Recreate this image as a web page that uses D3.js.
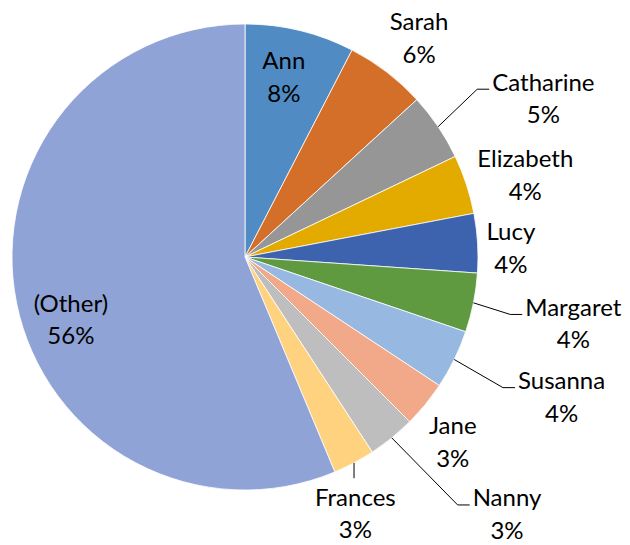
<!DOCTYPE html>
<html>
<head>
<meta charset="utf-8">
<script src="https://cdn.jsdelivr.net/npm/d3@7"></script>
<style>
  body { margin: 0; background: #fff; }
  svg { display: block; }
  text { font-family: Lato, "Open Sans", sans-serif; font-size: 24px; fill: #000; }
</style>
</head>
<body>
<svg id="chart" width="630" height="545"></svg>
<script>
// names and shares (percent)
const names = ["Ann", "Sarah", "Catharine", "Elizabeth", "Lucy", "Margaret", "Susanna", "Jane", "Nanny", "Frances", "(Other)"]
const shares = [7.6, 5.6, 4.7, 4.1, 4.1, 4.1, 4.1, 3.2, 3.3, 2.9, 56.3]
const colors = ["#508bc3", "#d46f2a", "#969696", "#e3aa00", "#3d62ae", "#5f9a40", "#97b8e0", "#f1a98a", "#bebebe", "#ffd27f", "#8fa3d6"]

// label placement: radius from centre, angle nudge (deg), leader line?
const labelR = [184, 280, 338, 292, 266, 335, 346, 278, 367, 279, 185]
const labelNudge = [-1.5, 1, 6, 1.9, 1.5, 0.1, -2.3, 2.4, -6.5, 4.6, -8.4]
const leader = [false, false, true, false, false, true, true, false, true, true, false]

let svg = d3.select("#chart")
let cx = 245, cy = 257, radius = 233

let data = names.map((n, i) => ({ name: n, value: shares[i], i: i }))

let pie = d3.pie().sort(null).value(d => d.value)
let arc = d3.arc().innerRadius(0).outerRadius(radius)
let arcs = pie(data)

let body = svg.append("g").attr("transform", `translate(${cx},${cy})`)

body.selectAll("path")
  .data(arcs)
  .enter()
  .append("path")
  .attr("d", arc)
  .attr("fill", d => colors[d.data.i])
  .attr("stroke", "#fff")
  .attr("stroke-width", 0.8)

function polar(angle, r) {
  return [Math.sin(angle) * r, -Math.cos(angle) * r]
}

let labels = body.selectAll("g.lbl")
  .data(arcs)
  .enter()
  .append("g")
  .attr("class", "lbl")
  .each(function (d) {
    let mid = (d.startAngle + d.endAngle) / 2
    let a = mid + labelNudge[d.data.i] * Math.PI / 180
    let p = polar(a, labelR[d.data.i])
    d.lx = p[0]
    d.ly = p[1]
    let t = d3.select(this).append("text")
      .attr("text-anchor", "middle")
      .attr("x", p[0])
      .attr("y", p[1])
    t.append("tspan").attr("x", p[0]).attr("dy", "-0.32em").text(d.data.name)
    t.append("tspan").attr("x", p[0]).attr("dy", "1.36em").text(Math.round(d.data.value) + "%")
  })

// leader lines
labels.each(function (d) {
  if (!leader[d.data.i]) return
  let box = this.getBBox()
  let mid = (d.startAngle + d.endAngle) / 2
  let s = polar(mid, radius)
  let pts
  if (s[0] > box.x && s[0] < box.x + box.width) {
    // label sits right under the slice
    pts = [s, [s[0], d.ly - 35]]
  } else {
    let ey = d.ly - 9
    pts = [s, [box.x - 15, ey], [box.x - 3, ey]]
  }
  body.append("path")
    .attr("d", d3.line()(pts))
    .attr("fill", "none")
    .attr("stroke", "#000")
    .attr("stroke-width", 1)
})
</script>
</body>
</html>
